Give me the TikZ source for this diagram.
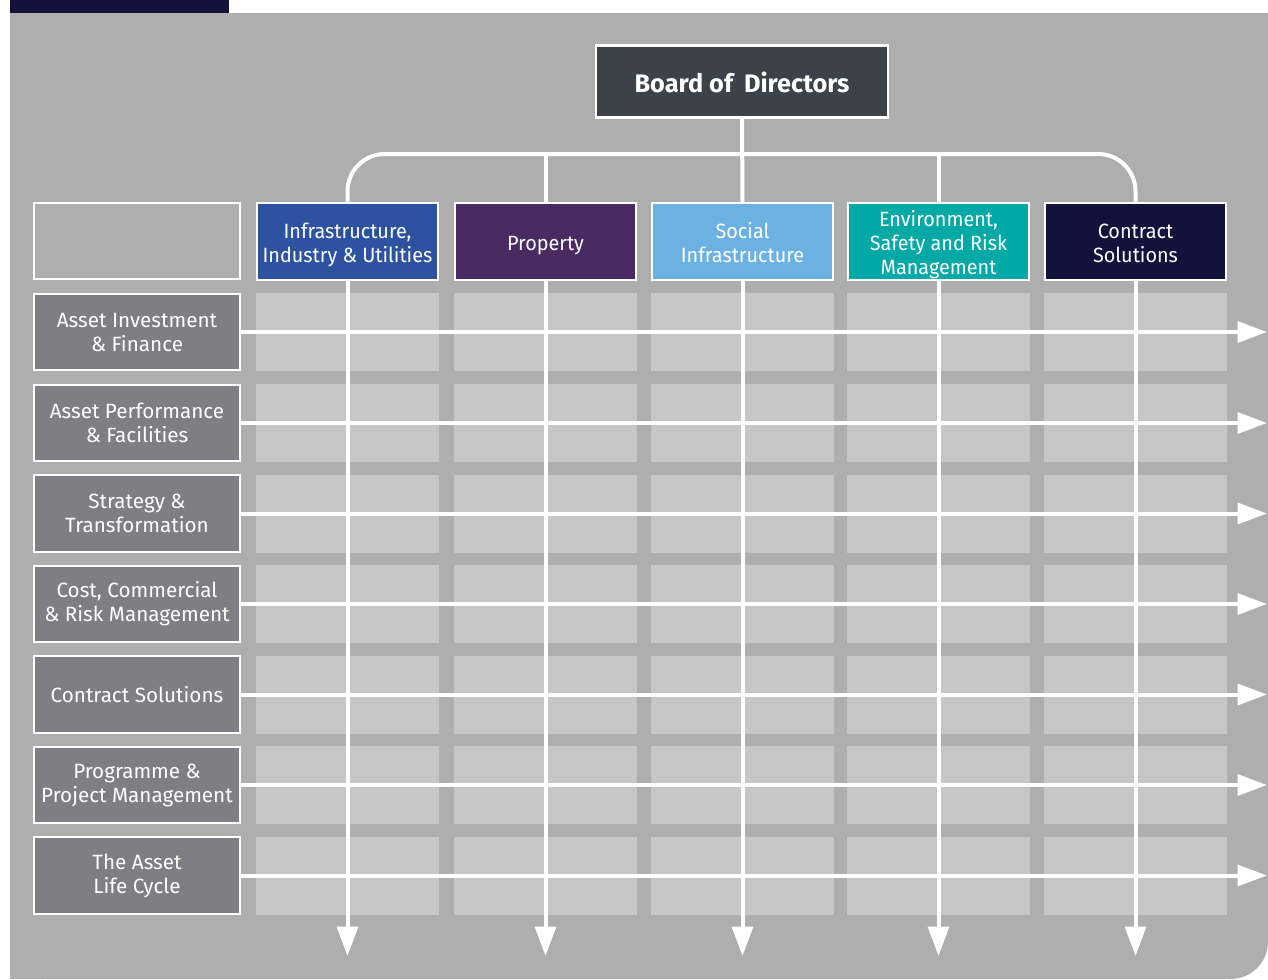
\documentclass[tikz,border=0pt]{standalone}
\usepackage{fontspec}
\setmainfont{Fira Sans}
\newfontfamily\hdrfont{Fira Sans}[FakeStretch=0.96]
\usetikzlibrary{arrows.meta}
\definecolor{bggray}{HTML}{AEAEAE}
\definecolor{cellgray}{HTML}{C6C6C6}
\definecolor{rowgray}{HTML}{7F7E84}
\definecolor{boardc}{HTML}{3C424A}
\definecolor{colA}{HTML}{2D52A0}
\definecolor{colB}{HTML}{4A2A62}
\definecolor{colC}{HTML}{6BB1E1}
\definecolor{colD}{HTML}{00A9A6}
\definecolor{colE}{HTML}{13123D}
\newcommand{\hdrtext}[1]{\raisebox{-3pt}[\height][\depth]{\begin{tabular}{@{}c@{}}#1\end{tabular}}}
\tikzset{
  boxbase/.style={draw=white, line width=1.6pt, text=white, align=center, inner sep=0pt},
  hdr/.style={boxbase, minimum width=136pt, minimum height=58pt, font=\hdrfont\fontsize{15.5}{18}\selectfont},
  rowlab/.style={boxbase, fill=rowgray, minimum width=155pt, minimum height=57.5pt, font=\fontsize{15.5}{18}\selectfont},
  boardbox/.style={boxbase, fill=boardc, minimum width=219.5pt, minimum height=54pt, font=\bfseries\fontsize{19}{22}\selectfont},
  wline/.style={draw=white, line width=3pt},
  arr/.style={wline, -{Triangle[width=15.5pt,length=22pt]}}
}
\begin{document}
\begin{tikzpicture}[x=0.75pt, y=-0.75pt]
\useasboundingbox (0,0) rectangle (1268,979);
\fill[white] (0,0) rectangle (1268,979);
\fill[colE] (10,0) rectangle (229,13);
% background with rounded bottom-right corner
\fill[bggray, rounded corners=28pt] (10,13) rectangle (1268,979);
\fill[bggray] (10,13) rectangle (1200,979);
\fill[bggray] (10,13) rectangle (1268,900);
% cells
\foreach \cx in {347.5,545.5,742.5,938.5,1135.5}{
  \foreach \cy in {332,423,513.5,604,694.5,785,875.5}{
    \fill[cellgray] (\cx-91.5,\cy-39) rectangle (\cx+91.5,\cy+39);
  }
}
% board
\node[boardbox] (bod) at (742,81.5) {\raisebox{-0.8pt}[\height][\depth]{Board of\hspace{0.2em} Directors}};
% headers
\node[hdr, fill=colA] (h1) at (347.5,241.5) {\hdrtext{Infrastructure,\\Industry \& Utilities}};
\node[hdr, fill=colB] (h2) at (545.5,241.5) {\hdrtext{Property}};
\node[hdr, fill=colC] (h3) at (742.5,241.5) {\hdrtext{Social\\Infrastructure}};
\node[hdr, fill=colD] (h4) at (938.5,241.5) {\hdrtext{Environment,\\Safety and Risk\\Management}};
\node[hdr, fill=colE] (h5) at (1135.5,241.5) {\hdrtext{Contract\\Solutions}};
\node[rowlab, fill=bggray] (corner) at (137,241) {};
% row labels
\node[rowlab] (r1) at (137,332) {Asset Investment\\\& Finance};
\node[rowlab] (r2) at (137,423) {Asset Performance\\\& Facilities};
\node[rowlab] (r3) at (137,513.5) {Strategy \&\\Transformation};
\node[rowlab] (r4) at (137,604) {Cost, Commercial\\\& Risk Management};
\node[rowlab] (r5) at (137,694.5) {Contract Solutions};
\node[rowlab] (r6) at (137,785) {Programme \&\\Project Management};
\node[rowlab] (r7) at (137,875.5) {The Asset\\Life Cycle};
% tree connectors
\coordinate (bus) at (742,154);
\draw[wline, rounded corners=28pt] (h1.north) |- (bus) -| (h5.north);
\draw[wline] (bod.south) -- (h3.north);
\draw[wline] (h2.north) -- (h2.north |- bus);
\draw[wline] (h4.north) -- (h4.north |- bus);
% horizontal arrows
\foreach \j/\cy in {1/332,2/423,3/513.5,4/604,5/694.5,6/785,7/875.5}{
  \coordinate (e\j) at (1267,\cy);
  \draw[arr] (r\j.east) -- (e\j);
}
% vertical arrows
\foreach \i/\cx in {1/347.5,2/545.5,3/742.5,4/938.5,5/1135.5}{
  \coordinate (v\i) at (\cx,956);
  \draw[arr] (h\i.south) -- (v\i);
}
\end{tikzpicture}
\end{document}
